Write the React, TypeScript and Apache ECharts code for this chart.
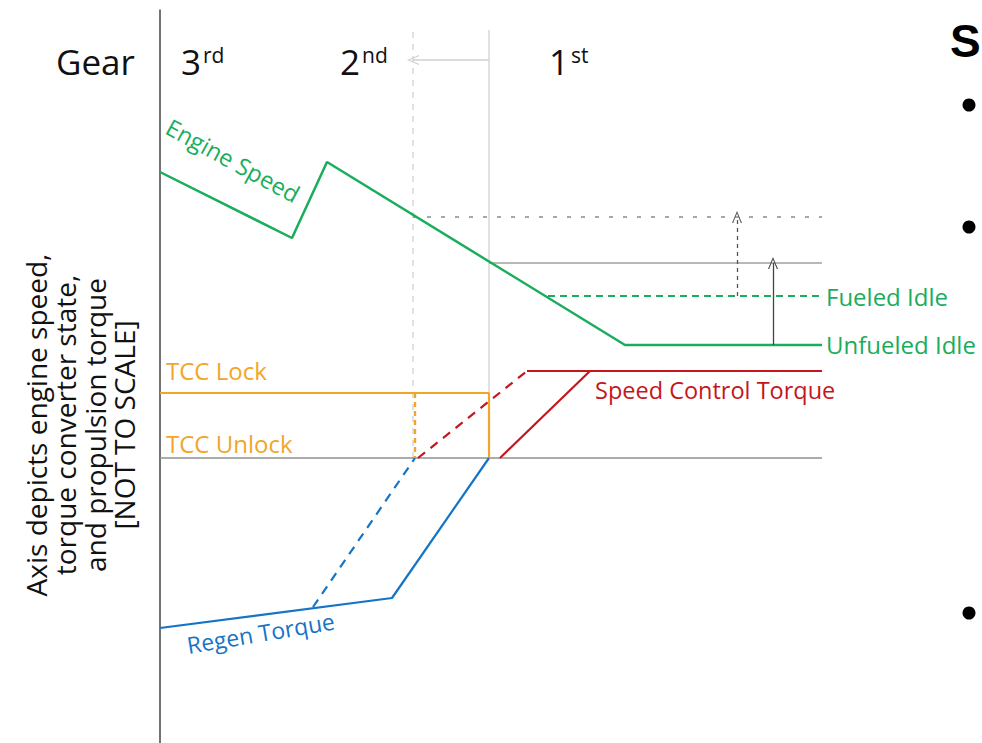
import React, { useEffect, useRef } from "react";
import * as echarts from "echarts";

// x: time from axis origin, y: level (not to scale)
const engineSpeed = [[0, 571], [132, 505], [167, 581], [465, 398], [662, 398]];
const fueledIdle = [[388, 447], [662, 447]];
const upshiftRef = [[253, 526], [662, 526]];
const downshiftRef = [[329, 480], [662, 480]];
const tccState = [[0, 350], [329, 350], [329, 285]];
const tccEarly = [[255, 350], [255, 285]];
const baseline = [[0, 285], [662, 285]];
const regenTorque = [[0, 115], [232, 145], [329, 285]];
const regenEarly = [[153, 136], [255, 285]];
const speedCtrl = [[340, 285], [430, 372]];
const speedCtrlHold = [[367, 372], [662, 372]];
const speedCtrlEarly = [[258, 285], [367, 372]];
const shiftEarly = [[253, 285], [253, 713]];
const shiftLate = [[329, 285], [329, 713]];
const shiftArrow = [[329, 683], [253, 683]];
const fueledArrow = [[577, 447], [577, 526]];
const unfueledArrow = [[613, 398], [613, 480]];

const gearNums = ["3", "2", "1"];
const gearSups = ["rd", "nd", "st"];
const gearX = [181, 340, 549];

const GREEN = "#19AD5C";
const ORANGE = "#F2A52A";
const RED = "#C4161C";
const BLUE = "#1574C6";
const FONT = '"Open Sans", "Noto Sans", sans-serif';

const chev = "path://M0,12 L6,0 L12,12 L10.6,12 L6,2.6 L1.4,12 Z";

function line(data: number[][], color: string, width: number, type: any = "solid", z = 2) {
  return {
    type: "line",
    data,
    symbol: "none",
    clip: false,
    silent: true,
    z,
    lineStyle: { color, width, type },
  };
}

function arrow(data: number[][], color: string, width: number, type: any) {
  return {
    type: "line",
    data: [],
    symbol: "none",
    silent: true,
    markLine: {
      silent: true,
      symbol: ["none", chev],
      symbolSize: [10, 12],
      label: { show: false },
      lineStyle: { color, width, type },
      data: [[{ coord: data[0] }, { coord: data[1] }]],
    },
  };
}

function label(text: string, x: number, y: number, fill: string, size = 24, rotation = 0) {
  return {
    type: "text",
    x,
    y,
    rotation,
    style: { text, fontSize: size, fontFamily: FONT, fill, align: "left", verticalAlign: "middle" },
  };
}

export default function App() {
  const ref = useRef<HTMLDivElement>(null);
  useEffect(() => {
    const chart = echarts.init(ref.current!, null, { renderer: "svg" });
    const graphics: any[] = [label("Gear", 56, 61, "#111", 35)];
    gearNums.forEach((n, i) => {
      graphics.push(label(n, gearX[i], 61, "#111", 35));
      graphics.push(label(gearSups[i], gearX[i] + 22, 55, "#111", 21));
    });
    graphics.push(
      label("Engine Speed", 168, 125, GREEN, 23.5, -0.5),
      label("Fueled Idle", 826, 296, GREEN),
      label("Unfueled Idle", 826, 344, GREEN),
      label("Speed Control Torque", 595, 390, RED, 23.5),
      label("TCC Lock", 166, 370, ORANGE),
      label("TCC Unlock", 166, 443, ORANGE),
      label("Regen Torque", 187, 645, BLUE, 23, 0.165),
      {
        type: "text",
        x: 80,
        y: 425,
        rotation: Math.PI / 2,
        style: {
          text: "Axis depicts engine speed,\ntorque converter state,\nand propulsion torque\n[NOT TO SCALE]",
          fontSize: 28,
          lineHeight: 29.5,
          fontFamily: FONT,
          fill: "#111",
          align: "center",
          verticalAlign: "middle",
        },
      },
      {
        type: "text",
        x: 950,
        y: 41,
        style: { text: "S", fontSize: 46, fontWeight: "bold", fontFamily: '"Liberation Sans", Arial, sans-serif', fill: "#000", align: "left", verticalAlign: "middle" },
      },
      { type: "circle", shape: { cx: 969, cy: 105, r: 6.5 }, style: { fill: "#000" } },
      { type: "circle", shape: { cx: 969, cy: 227, r: 6.5 }, style: { fill: "#000" } },
      { type: "circle", shape: { cx: 969, cy: 613, r: 6.5 }, style: { fill: "#000" } }
    );

    chart.setOption({
      animation: false,
      grid: { left: 160, top: 10, width: 662, height: 733 },
      xAxis: { type: "value", min: 0, max: 662, show: false },
      yAxis: {
        type: "value",
        min: 0,
        max: 733,
        splitLine: { show: false },
        axisLabel: { show: false },
        axisTick: { show: false },
        axisLine: { show: true, lineStyle: { color: "#444", width: 1.5 } },
      },
      graphic: graphics,
      series: [
        line(shiftEarly, "#d8d8d8", 1.5, [6, 6], 1),
        line(shiftLate, "#d8d8d8", 1.5, "solid", 1),
        line(upshiftRef, "#8a8a8a", 1.5, [4, 10], 1),
        line(downshiftRef, "#a0a0a0", 1.5, "solid", 1),
        line(baseline, "#909090", 1.5, "solid", 1),
        line(engineSpeed, GREEN, 2.5),
        line(fueledIdle, GREEN, 2.2, [7, 5]),
        line(tccState, ORANGE, 2.2),
        line(tccEarly, ORANGE, 2.4, [5, 4]),
        line(regenTorque, BLUE, 2.2),
        line(regenEarly, BLUE, 2.2, [9, 7]),
        line(speedCtrl, RED, 2.2),
        line(speedCtrlHold, RED, 2.2),
        line(speedCtrlEarly, RED, 2.2, [9, 7]),
        arrow(shiftArrow, "#d0d0d0", 1.5, "solid"),
        arrow(fueledArrow, "#555", 1.3, [4, 4]),
        arrow(unfueledArrow, "#444", 1.3, "solid"),
      ],
    });
    return () => chart.dispose();
  }, []);
  return <div ref={ref} style={{ position: "fixed", left: 0, top: 0, width: 982, height: 743, background: "#fff" }} />;
}
